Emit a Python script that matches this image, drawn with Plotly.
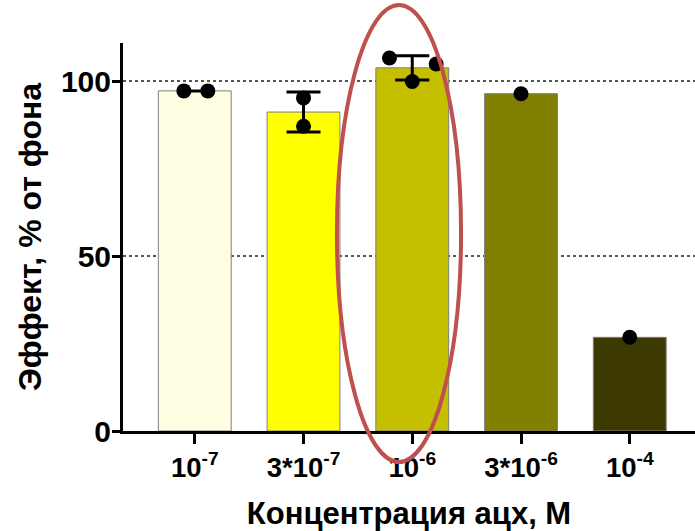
import numpy as np
import plotly.graph_objects as go

# Concentrations of the agonist (tick labels) and per-well responses, % of baseline
categories = ["10<sup>-7</sup>", "3*10<sup>-7</sup>", "10<sup>-6</sup>",
              "3*10<sup>-6</sup>", "10<sup>-4</sup>"]
replicates = [
    [97.3, 97.3],
    [95.3, 87.2],
    [106.7, 105.0, 100.0],
    [96.5],
    [26.8],
]
bar_colors = ["#FFFDE2", "#FFFF00", "#C4C000", "#807F00", "#3C3A00"]

# horizontal spread of the individual points within each bar
point_offsets = [
    [-0.10, 0.12],
    [0.0, 0.0],
    [-0.21, 0.22, 0.0],
    [0.0],
    [0.0],
]

idx = list(range(len(categories)))
means = [float(np.mean(r)) for r in replicates]

fig = go.Figure()

fig.add_trace(go.Bar(
    x=idx, y=means, width=0.67,
    marker=dict(color=bar_colors, line=dict(color="#7f7f7f", width=1)),
    showlegend=False, hoverinfo="skip",
))

# mean ± SD, only where there is more than one replicate
err_x = [i for i, r in zip(idx, replicates) if len(r) > 1]
err_y = [m for m, r in zip(means, replicates) if len(r) > 1]
err_sd = [float(np.std(r, ddof=1)) for r in replicates if len(r) > 1]
fig.add_trace(go.Scatter(
    x=err_x, y=err_y, mode="markers",
    marker=dict(size=1, color="rgba(0,0,0,0)"),
    error_y=dict(type="data", array=err_sd, visible=True,
                 color="black", thickness=3, width=17),
    showlegend=False, hoverinfo="skip",
))

# individual replicates
px, py = [], []
for i, (vals, offs) in enumerate(zip(replicates, point_offsets)):
    for v, o in zip(vals, offs):
        px.append(i + o)
        py.append(v)
fig.add_trace(go.Scatter(
    x=px, y=py, mode="markers",
    marker=dict(size=15, color="black"),
    showlegend=False, hoverinfo="skip",
))

# highlight around the 10^-6 group
fig.add_shape(type="circle", xref="paper", yref="paper",
              x0=0.374, x1=0.591, y0=-0.080, y1=1.098,
              line=dict(color="#C0504D", width=4), layer="above")

font_family = "Liberation Sans, Arial, sans-serif"

fig.update_layout(
    width=695, height=531,
    margin=dict(l=123, r=0, t=43, b=100),
    paper_bgcolor="white", plot_bgcolor="white",
    font=dict(family=font_family, color="black"),
    xaxis=dict(
        range=[-0.66, 4.6],
        tickmode="array", tickvals=idx, ticktext=categories,
        tickfont=dict(size=27.5, weight="bold", family=font_family),
        ticks="outside", ticklen=10, tickwidth=3, tickcolor="black",
        showline=True, linecolor="black", linewidth=3,
        showgrid=False, zeroline=False,
        title=dict(text="Концентрация ацх, М", standoff=26,
                   font=dict(size=31, weight="bold", family=font_family)),
    ),
    yaxis=dict(
        range=[0, 111],
        tickmode="array", tickvals=[0, 50, 100],
        tickfont=dict(size=30, weight="bold", family=font_family),
        ticklabelstandoff=-5,
        ticks="outside", ticklen=8, tickwidth=3, tickcolor="black",
        showline=True, linecolor="black", linewidth=3,
        showgrid=True, gridcolor="#555555", gridwidth=1.5, griddash="dot",
        zeroline=False,
        title=dict(text="Эффект, % от фона", standoff=10,
                   font=dict(size=32, weight="bold", family=font_family)),
    ),
)

fig.write_html("out.html")
